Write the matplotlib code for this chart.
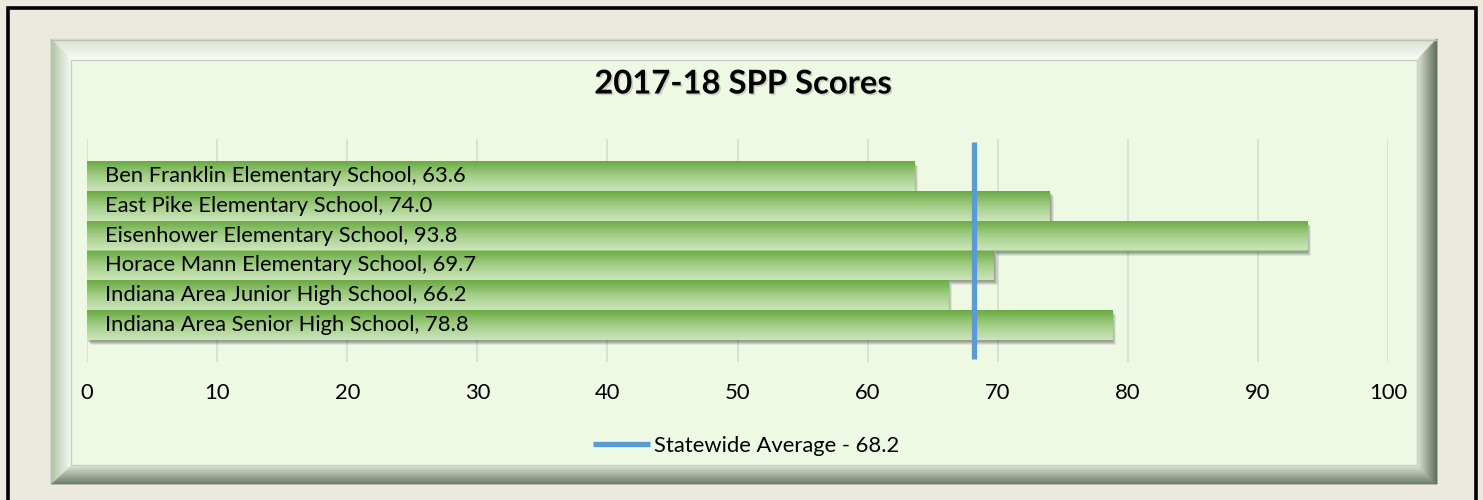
import numpy as np
import matplotlib.pyplot as plt
import matplotlib.patheffects as pe
from matplotlib.patches import Rectangle, Polygon
from matplotlib.colors import to_rgb, LinearSegmentedColormap
from matplotlib.transforms import offset_copy

# data
schools = ["Ben Franklin Elementary School", "East Pike Elementary School",
           "Eisenhower Elementary School", "Horace Mann Elementary School",
           "Indiana Area Junior High School", "Indiana Area Senior High School"]
scores = [63.6, 74.0, 93.8, 69.7, 66.2, 78.8]
state_avg = 68.2
xticks = [0, 10, 20, 30, 40, 50, 60, 70, 80, 90, 100]
title = "2017-18 SPP Scores"

W, H = 1483, 500
plt.rcParams['font.family'] = ['Lato', 'DejaVu Sans']
fig = plt.figure(figsize=(W / 100, H / 100), dpi=100)

# background decoration, drawn in pixel units
bg = fig.add_axes([0, 0, 1, 1])
bg.set_xlim(0, W)
bg.set_ylim(H, 0)
bg.axis('off')
bg.add_patch(Rectangle((0, 0), W, H, color='#ECE9DF'))
bg.plot([7.5, 7.5, 1476, 1476], [520, 7.5, 7.5, 520], color='black', lw=2.6,
        solid_joinstyle='miter')

ox0, oy0, ox1, oy1 = 51, 39, 1437, 484
ix0, iy0, ix1, iy1 = 71, 60, 1417, 465


def lerp(a, b, t):
    a, b = np.array(to_rgb(a)), np.array(to_rgb(b))
    return a + (b - a) * t


def rect_at(t):
    return (ox0 + (ix0 - ox0) * t, oy0 + (iy0 - oy0) * t,
            ox1 + (ix1 - ox1) * t, oy1 + (iy1 - oy1) * t)


# bevel sides: (outer colour, inner colour)
sides = {'top': ('#D5DECF', '#FBFDF8'), 'left': ('#AFC2A3', '#F4F9F0'),
         'right': ('#5C6A58', '#DCE5D4'), 'bottom': ('#6C7967', '#DDE6D6')}
n = 30
for k in range(n):
    t1, t2 = k / n, (k + 1) / n
    a0, b0, a1, b1 = rect_at(t1)
    c0, d0, c1, d1 = rect_at(t2)
    polys = {
        'top': [(a0, b0), (a1, b0), (c1, d0), (c0, d0)],
        'bottom': [(a0, b1), (a1, b1), (c1, d1), (c0, d1)],
        'left': [(a0, b0), (a0, b1), (c0, d1), (c0, d0)],
        'right': [(a1, b0), (a1, b1), (c1, d1), (c1, d0)],
    }
    for side, pts in polys.items():
        col = lerp(sides[side][0], sides[side][1], (t1 + t2) / 2)
        bg.add_patch(Polygon(pts, closed=True, facecolor=col, edgecolor=col, lw=0.6))

bg.add_patch(Rectangle((ix0, iy0), ix1 - ix0, iy1 - iy0, facecolor='#EEF9E4',
                       edgecolor='#C9D2C2', lw=1))
bg.plot([ox0, ox1], [oy0 + 0.5, oy0 + 0.5], color='#B9C2B3', lw=1)

# title
fig.text(743 / W, 1 - 84 / H, title, ha='center', va='center', fontsize=23.6,
         fontweight='bold', color='black',
         path_effects=[pe.withSimplePatchShadow(offset=(1.2, -1.2),
                                                shadow_rgbFace='#888888', alpha=0.35)])

# chart area
left, right, top, bottom = 87, 1388, 139, 362
ax = fig.add_axes([left / W, 1 - bottom / H, (right - left) / W, (bottom - top) / H])
ax.patch.set_visible(False)
for s in ax.spines.values():
    s.set_visible(False)

y = np.arange(len(schools))
pad = 0.74

# shadows first, so the next bar covers them
for dx, dy, a in [(1, -2, 0.18), (2, -3, 0.16), (3, -4, 0.14), (4, -5, 0.1)]:
    tr = offset_copy(ax.transData, fig=fig, x=dx, y=dy, units='dots')
    ax.barh(y, scores, height=1.0, color='#404040', alpha=a, transform=tr, lw=0, zorder=2)

grad = LinearSegmentedColormap.from_list('g', ['#6AAA43', '#A3CE88', '#CBE5BA'])
bars = ax.barh(y, scores, height=1.0, color='#9CCB7F', lw=0, zorder=3)
for b, v, yy in zip(bars, scores, y):
    im = ax.imshow(np.linspace(0, 1, 64).reshape(-1, 1), cmap=grad, aspect='auto',
                   extent=(0, v, yy + 0.5, yy - 0.5), origin='upper', zorder=3.5)
    im.set_clip_path(b)

for name, v, yy in zip(schools, scores, y):
    ax.text(1.4, yy, f"{name}, {v:.1f}", ha='left', va='center', fontsize=15.8,
            color='black', zorder=5)

ax.set_xlim(0, 100)
ax.set_ylim(len(schools) - 0.5 + pad, -0.5 - pad)
ax.set_yticks([])
ax.set_xticks(xticks)
ax.tick_params(axis='x', length=0, pad=15, labelsize=15.8)
ax.grid(axis='x', color='#D6DBCF', lw=1.2, zorder=1)
ax.set_axisbelow(True)

ax.axvline(state_avg, ymin=0.013, ymax=0.987, color='#5B9BD5', lw=3.8,
           solid_capstyle='butt', zorder=6, label=f"Statewide Average - {state_avg}")

ax.legend(loc='center', bbox_to_anchor=(746 / W, 1 - 446 / H),
          bbox_transform=fig.transFigure, frameon=False, fontsize=15.8,
          handlelength=2.6, handletextpad=0.15)

fig.savefig('out.png', dpi=100)
